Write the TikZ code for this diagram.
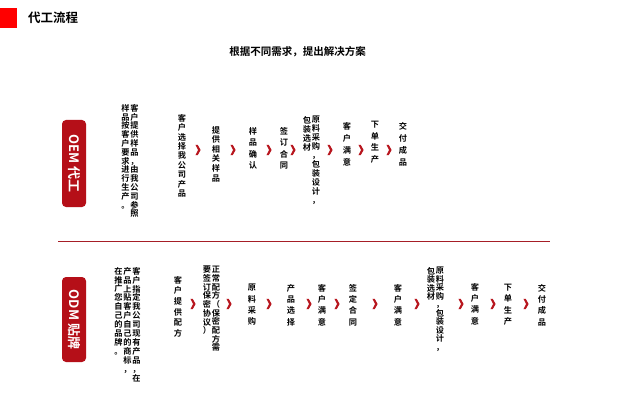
\documentclass[tikz,border=0pt]{standalone}
\usepackage{fontspec}
\setmainfont{Noto Sans CJK SC}[BoldFont={Noto Sans CJK SC Bold}]
\definecolor{hdrred}{HTML}{FF0000}
\definecolor{badgered}{HTML}{B50F18}
\definecolor{linered}{HTML}{A61E26}
\definecolor{chevred}{HTML}{B8161E}
\def\vtloop#1{\ifx#1\relax\else\hbox to 9pt{\hss#1\hss}\expandafter\vtloop\fi}
\newcommand\vt[2]{\vbox{\baselineskip=#1\lineskip=0pt\lineskiplimit=-100pt\vtloop#2\relax}}
\tikzset{
 vcol/.style={anchor=north, inner sep=0pt, font=\bfseries\fontsize{8.2}{8.2}\selectfont},
 badge/.style={fill=badgered, rounded corners=4pt, rotate=-90, text=white,
   font=\bfseries\fontsize{13}{13}\selectfont, minimum height=24pt, inner sep=0pt},
 chev/.pic={\fill[chevred] (-2.6,-5.2) -- (-0.3,-5.2) -- (2.6,0) -- (-0.3,5.2) -- (-2.6,5.2) -- (0.1,0) -- cycle;}
}
\begin{document}
\begin{tikzpicture}[x=1pt,y=-1pt]
\fill[white] (0,0) rectangle (633,412);
\useasboundingbox (0,0) rectangle (633,412);
% header
\fill[hdrred] (0,8) rectangle (17,28);
\node[anchor=west, inner sep=0pt, font=\bfseries\fontsize{12.5}{12.5}\selectfont] (title) at (28,18) {代工流程};
\node[inner sep=0pt, font=\bfseries\fontsize{10.5}{10.5}\selectfont] (subtitle) at (297.5,52) {根据不同需求，提出解决方案};
% badges
\node[badge, minimum width=87pt] (oem) at (74,163.5) {OEM 代工};
\node[badge, minimum width=85pt] (odm) at (74,319.5) {ODM 贴牌};
% separator
\coordinate (sepL) at (58,241);
\coordinate (sepR) at (550,241);
\draw[linered, line width=1pt] (sepL) -- (sepR);
% OEM row
\node[vcol] (o1a) at (134.5,104) {\vt{8.8pt}{客户提供样品，由我公司参照}};
\node[vcol] (o1b) at (125.5,104) {\vt{8.8pt}{样品按客户要求进行生产。}};
\node[vcol] (o2) at (182,114) {\vt{9.4pt}{客户选择我公司产品}};
\node[vcol] (o3) at (216,126) {\vt{9.6pt}{提供相关样品}};
\node[vcol] (o4) at (253,127) {\vt{11.5pt}{样品确认}};
\node[vcol] (o5) at (284,127) {\vt{11.5pt}{签订合同}};
\node[vcol] (o6a) at (316,116) {\vt{9pt}{原料采购，包装设计，}};
\node[vcol] (o6b) at (307,116) {\vt{9pt}{包装选材}};
\node[vcol] (o7) at (347,122) {\vt{12pt}{客户满意}};
\node[vcol] (o8) at (375,121) {\vt{11.5pt}{下单生产}};
\node[vcol] (o9) at (403,122) {\vt{12pt}{交付成品}};
\foreach \cx [count=\i] in {198,233,269,293,330,361,389}
  \pic (oc\i) at (\cx,150) {chev};
% ODM row
\node[vcol] (d1a) at (136.5,267) {\vt{8.9pt}{客户指定我公司现有产品，在}};
\node[vcol] (d1b) at (127.5,267) {\vt{8.9pt}{产品上贴客户自己的商标，}};
\node[vcol] (d1c) at (118.5,267) {\vt{8.9pt}{在推广您自己的品牌。}};
\node[vcol] (d2) at (178,276) {\vt{10.6pt}{客户提供配方}};
\node[vcol] (d3a) at (216,266) {\vt{8.7pt}{正常配方（保密配方需}};
\node[vcol] (d3b) at (207,266) {\vt{8.7pt}{要签订保密协议）}};
\node[vcol] (d4) at (252,284) {\vt{11.3pt}{原料采购}};
\node[vcol] (d5) at (291,284) {\vt{11.3pt}{产品选择}};
\node[vcol] (d6) at (322,284) {\vt{11.3pt}{客户满意}};
\node[vcol] (d7) at (353,284) {\vt{11.3pt}{签定合同}};
\node[vcol] (d8) at (398,284) {\vt{11.3pt}{客户满意}};
\node[vcol] (d9a) at (440,267) {\vt{8.5pt}{原料采购，包装设计，}};
\node[vcol] (d9b) at (431,267) {\vt{8.5pt}{包装选材}};
\node[vcol] (d10) at (475,283) {\vt{11.3pt}{客户满意}};
\node[vcol] (d11) at (508,284) {\vt{11.3pt}{下单生产}};
\node[vcol] (d12) at (542,284) {\vt{11.3pt}{交付成品}};
\foreach \cx [count=\i] in {193,229,269,309,337,375,417,461,493,526}
  \pic (dc\i) at (\cx,304) {chev};
\end{tikzpicture}
\end{document}
